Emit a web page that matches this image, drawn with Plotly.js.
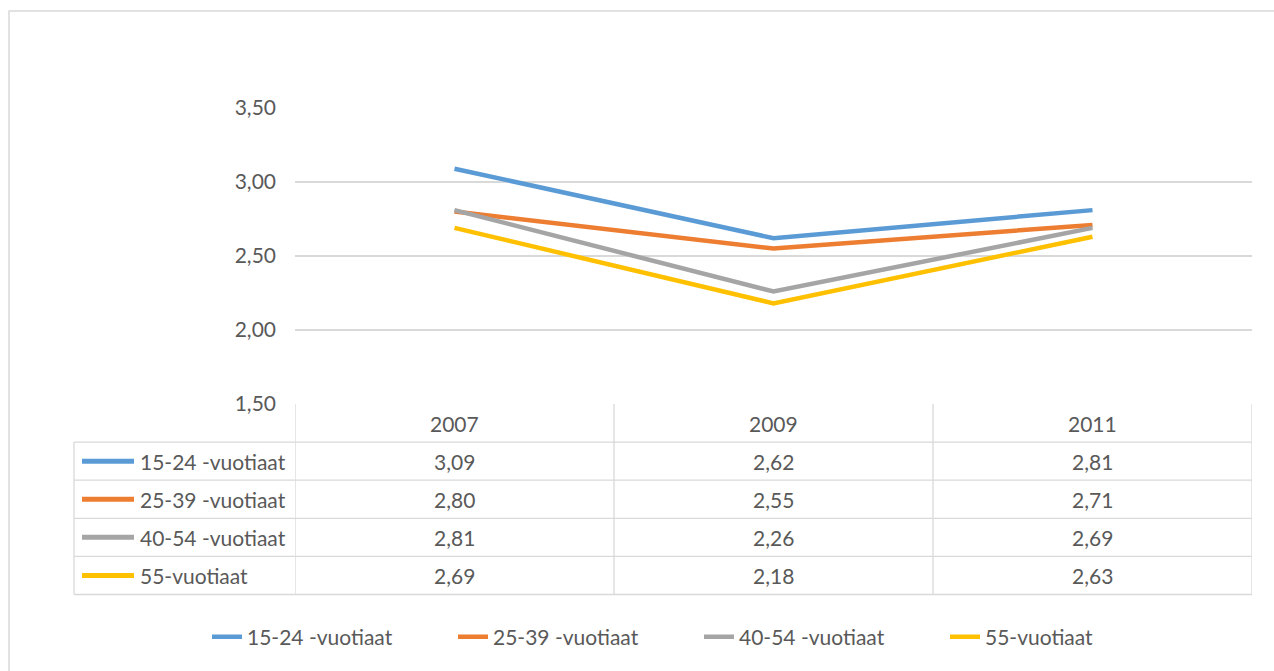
<!DOCTYPE html>
<html>
<head>
<meta charset="utf-8">
<script src="https://cdn.plot.ly/plotly-3.0.1.min.js"></script>
<style>html,body{margin:0;padding:0;background:#fff;}#chart{width:1274px;height:671px;}</style>
</head>
<body>
<div id="chart"></div>
<script>
const years = ["2007", "2009", "2011"];
const seriesNames = ["15-24 -vuotiaat", "25-39 -vuotiaat", "40-54 -vuotiaat", "55-vuotiaat"];
const s1524 = [3.09, 2.62, 2.81];
const s2539 = [2.80, 2.55, 2.71];
const s4054 = [2.81, 2.26, 2.69];
const s55 = [2.69, 2.18, 2.63];
const colors = ["#5B9BD5", "#ED7D31", "#A5A5A5", "#FFC000"];
const yTicks = [1.5, 2.0, 2.5, 3.0, 3.5];

const seriesValues = [s1524, s2539, s4054, s55];
const FONT = "Lato, 'Noto Sans', sans-serif";
const FS = 21;
const TXT = "#595959";
const GRID = "#D9D9D9";

const W = 1274, H = 671;
const L = 295, R = 22, T = 108, B = 267;
const plotW = W - L - R, plotH = H - T - B;
const px2x = p => (p - L) / plotW;
const py2y = p => (H - B - p) / plotH;

const fmt = v => v.toFixed(2).replace('.', ',');

const traces = seriesValues.map((vals, i) => ({
  type: 'scatter', mode: 'lines',
  x: [0, 1, 2], y: vals,
  name: seriesNames[i],
  line: {color: colors[i], width: 4.5},
  hoverinfo: 'skip'
}));

const shapes = [];
const annotations = [];
const rowTop = 404, rowH = 38.1;
const nRows = seriesNames.length + 1;
const tableBottom = rowTop + rowH * nRows;

for (let r = 1; r <= nRows; r++) {
  const py = rowTop + rowH * r;
  shapes.push({type: 'line', xref: 'paper', yref: 'paper',
    x0: px2x(74), x1: 1, y0: py2y(py), y1: py2y(py),
    line: {color: GRID, width: 1.3}});
}
shapes.push({type: 'line', xref: 'paper', yref: 'paper', x0: px2x(74), x1: px2x(74),
  y0: py2y(rowTop + rowH), y1: py2y(tableBottom), line: {color: GRID, width: 1.3}});
for (let k = 0; k <= years.length; k++) {
  shapes.push({type: 'line', xref: 'x', yref: 'paper', x0: k - 0.5, x1: k - 0.5,
    y0: py2y(rowTop), y1: py2y(tableBottom), line: {color: GRID, width: 1.3}});
}
years.forEach((yr, k) => {
  annotations.push({xref: 'x', yref: 'paper', x: k, y: py2y(rowTop + rowH / 2),
    text: yr, showarrow: false, xanchor: 'center', yanchor: 'middle',
    font: {family: FONT, size: FS, color: TXT}});
});
seriesNames.forEach((nm, i) => {
  const cy = rowTop + rowH * (i + 1.5);
  shapes.push({type: 'line', xref: 'paper', yref: 'paper',
    x0: px2x(82), x1: px2x(134), y0: py2y(cy), y1: py2y(cy),
    line: {color: colors[i], width: 5}});
  annotations.push({xref: 'paper', yref: 'paper', x: px2x(138), y: py2y(cy),
    text: nm, showarrow: false, xanchor: 'left', yanchor: 'middle',
    font: {family: FONT, size: FS, color: TXT}});
  seriesValues[i].forEach((v, k) => {
    annotations.push({xref: 'x', yref: 'paper', x: k, y: py2y(cy),
      text: fmt(v), showarrow: false, xanchor: 'center', yanchor: 'middle',
      font: {family: FONT, size: FS, color: TXT}});
  });
});
shapes.push({type: 'rect', xref: 'paper', yref: 'paper',
  x0: px2x(9), x1: px2x(1290), y0: py2y(11), y1: py2y(700),
  line: {color: GRID, width: 1.5}, fillcolor: 'rgba(0,0,0,0)'});

const layout = {
  width: W, height: H,
  margin: {l: L, r: R, t: T, b: B, pad: 0},
  paper_bgcolor: '#fff', plot_bgcolor: '#fff',
  separators: ',.',
  font: {family: FONT, size: FS, color: TXT},
  xaxis: {range: [-0.5, 2.5], showticklabels: false, showgrid: false, zeroline: false,
    showline: false, fixedrange: true},
  yaxis: {range: [1.5, 3.5], tickvals: yTicks, ticktext: yTicks.map(fmt),
    showgrid: true, gridcolor: GRID, gridwidth: 1.3, zeroline: false, showline: false,
    ticks: '', ticklabelstandoff: 18, tickfont: {family: FONT, size: FS, color: TXT}},
  showlegend: true,
  legend: {orientation: 'h', x: px2x(207), xanchor: 'left', y: py2y(637), yanchor: 'middle',
    entrywidth: 201, entrywidthmode: 'pixels',
    font: {family: FONT, size: FS, color: TXT}, bgcolor: 'rgba(0,0,0,0)'},
  shapes: shapes,
  annotations: annotations
};

Plotly.newPlot('chart', traces, layout, {displayModeBar: false, staticPlot: true});
</script>
</body>
</html>
